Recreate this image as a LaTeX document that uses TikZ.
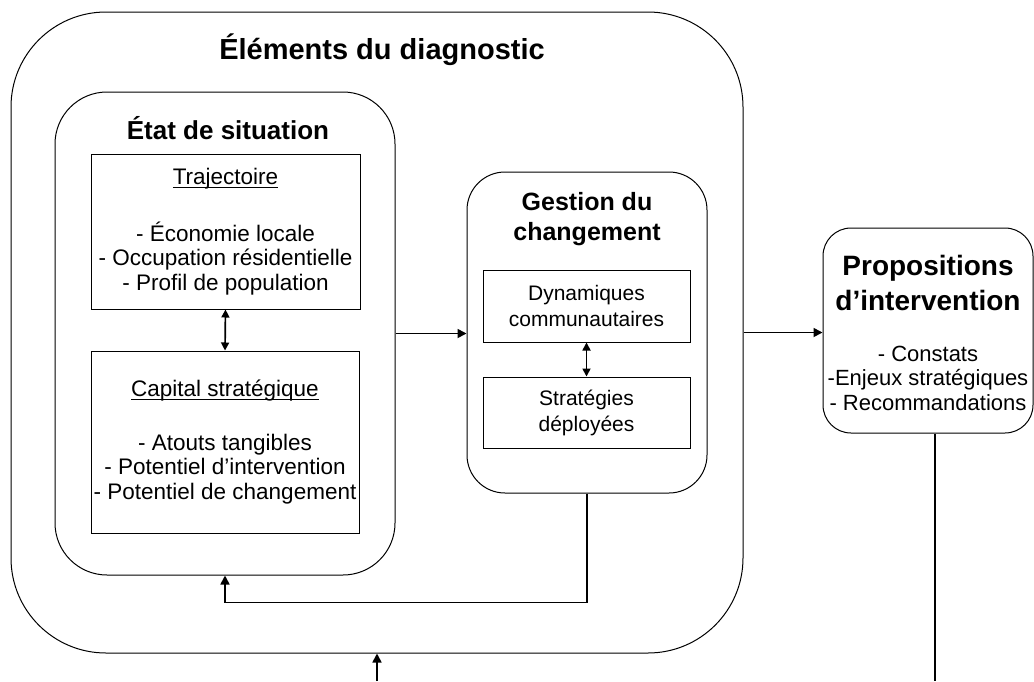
\documentclass[tikz,border=0pt]{standalone}
\usepackage{fontspec}
\setmainfont{Liberation Sans}
\usetikzlibrary{arrows.meta}
\newcommand\myul[1]{\setbox0\hbox{#1}\rlap{\rule[-3pt]{\wd0}{1pt}}\box0}
\begin{document}
\begin{tikzpicture}[x=1pt,y=-1pt,
 rbox/.style={draw, line width=1pt, inner sep=0pt},
 sbox/.style={draw, line width=1pt, inner sep=0pt, align=center, font=\fontsize{22.5}{24.5}\selectfont},
 ttl/.style={align=center, inner sep=0pt},
 conn/.style={line width=1.7pt, -{Triangle[length=9pt,width=9pt]}},
 dconn/.style={line width=1.7pt, {Triangle[length=8pt,width=8pt]}-{Triangle[length=8pt,width=8pt]}},
]
\useasboundingbox (0,0) rectangle (1034,681);
% outer
\node[rbox, rounded corners=95pt, minimum width=732pt, minimum height=641pt] (outer) at (377,332.5) {};
\node[ttl, font=\bfseries\fontsize{29}{34}\selectfont] (outert) at (382,50) {Éléments du diagnostic};
% etat
\node[rbox, rounded corners=52pt, minimum width=340pt, minimum height=483pt] (etat) at (225,333.5) {};
\node[ttl, font=\bfseries\fontsize{26}{30}\selectfont] (etatt) at (228,128) {État de situation};
\node[sbox, minimum width=269pt, minimum height=155pt] (traj) at (225.5,231.5) {\myul{Trajectoire}\\[32pt] - Économie locale\\ - Occupation résidentielle\\ - Profil de population};
\node[sbox, minimum width=268pt, minimum height=182pt] (cap) at (225,442) {\myul{Capital stratégique}\\[29pt] - Atouts tangibles\\ - Potentiel d’intervention\\ - Potentiel de changement};
% gestion
\node[rbox, rounded corners=38pt, minimum width=240pt, minimum height=321pt] (gest) at (587,332.5) {};
\node[ttl, font=\bfseries\fontsize{25}{30}\selectfont] (gestt) at (587,219) {Gestion du\\changement};
\node[sbox, font=\fontsize{21}{26}\selectfont, minimum width=207pt, minimum height=72pt] (dyn) at (586.5,306) {Dynamiques\\communautaires};
\node[sbox, font=\fontsize{21}{26}\selectfont, minimum width=207pt, minimum height=71pt] (strat) at (586.5,412.5) {Stratégies\\déployées};
% propositions
\node[rbox, rounded corners=28pt, minimum width=210pt, minimum height=205pt] (prop) at (928,330.5) {};
\node[ttl, font=\bfseries\fontsize{28}{35}\selectfont] (propt) at (928,282.5) {Propositions\\d’intervention};
\node[ttl, font=\fontsize{22}{24.5}\selectfont] (propb) at (928,378) {- Constats\\-Enjeux stratégiques\\- Recommandations};
% connectors
\draw[dconn] (traj.south) -- (cap.north);
\draw[dconn] (dyn.south) -- (strat.north);
\draw[conn] (etat.east) -- (etat.east -| gest.west);
\draw[conn] (outer.east) -- (outer.east -| prop.west);
\draw[conn] (gest.south) -- ++(0,109) -| (etat.south);
\coordinate (bin) at (377,681);
\draw[conn] (bin) -- (outer.south);
\coordinate (pout) at (935,681);
\draw[line width=1.7pt] (prop.south -| pout) -- (pout);
\end{tikzpicture}
\end{document}
